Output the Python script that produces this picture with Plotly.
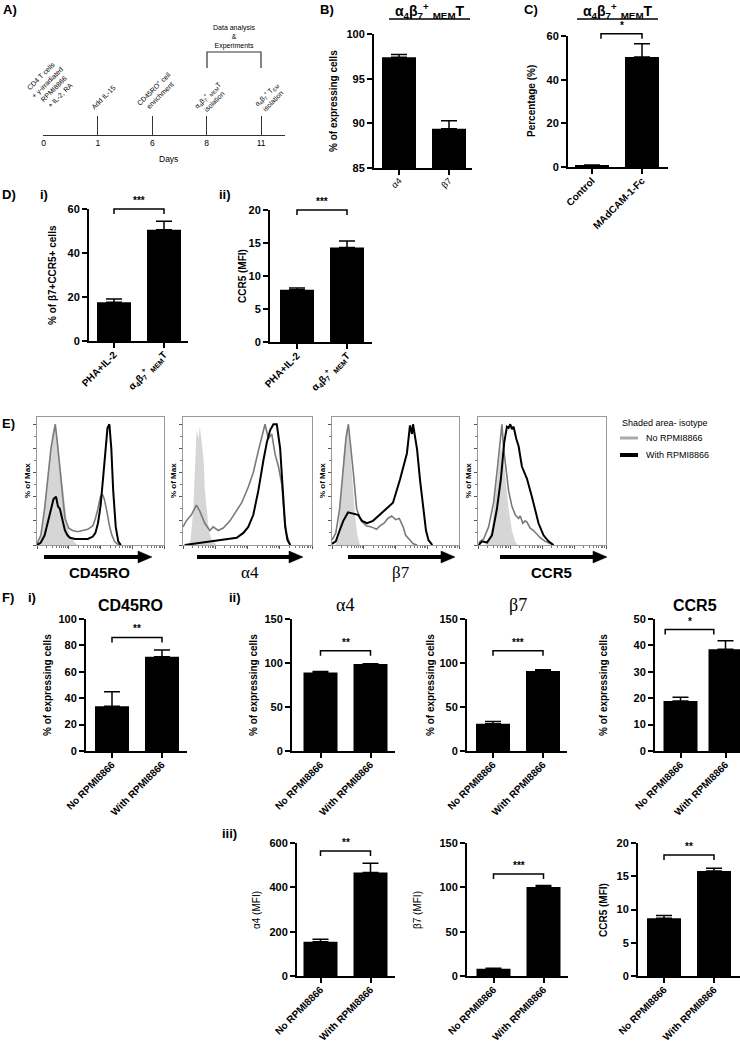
import math
import plotly.graph_objects as go

# ======================= DATA =======================
timeline_days = ["0", "1", "6", "8", "11"]
timeline_events = [
    "CD4 T cells<br>+ γ-irradiated<br>RPMI8866<br>+ IL-2, RA",
    "Add IL-15",
    "CD45RO<sup>+</sup> cell<br>enrichment",
    "α<sub>4</sub>β<sub>7</sub><sup>+</sup> <sub>MEM</sub>T<br>isolation",
    "α<sub>4</sub>β<sub>7</sub><sup>+</sup> T<sub>EM</sub><br>isolation",
]

B_categories = ["α4", "β7"]
B_values = [97.4, 89.4]
B_errors = [0.3, 0.9]

C_categories = ["Control", "MAdCAM-1-Fc"]
C_values = [0.8, 50.4]
C_errors = [0.1, 6.0]

D_categories = ["PHA+IL-2", "α<sub>4</sub>β<sub>7</sub><sup>+</sup> <sub>MEM</sub>T"]
Di_values = [17.6, 50.6]
Di_errors = [1.5, 3.8]
Dii_values = [7.9, 14.3]
Dii_errors = [0.3, 1.0]

F_groups = ["No RPMI8866", "With RPMI8866"]
F_CD45RO = [33.9, 71.4]
F_CD45RO_err = [10.9, 5.1]
F_a4 = [89.2, 98.8]
F_a4_err = [1.0, 0.3]
F_b7 = [31.1, 90.8]
F_b7_err = [2.3, 1.5]
F_CCR5 = [18.9, 38.5]
F_CCR5_err = [1.5, 3.3]
F_a4_MFI = [154, 467]
F_a4_MFI_err = [12, 42]
F_b7_MFI = [8.3, 100.3]
F_b7_MFI_err = [0.3, 1.8]
F_CCR5_MFI = [8.7, 15.8]
F_CCR5_MFI_err = [0.4, 0.4]

# Flow histograms (x: relative channel position 0-100, y: % of Max)
CD45RO_iso_x = [0, 2, 4, 6, 8, 10, 12, 13, 14.4, 16, 18, 20, 22, 24, 26, 29, 32]
CD45RO_iso_y = [0, 3, 15, 35, 55, 75, 92, 97, 98, 88, 70, 48, 30, 16, 8, 3, 0]
CD45RO_no_x = [0, 3, 6, 9, 11, 13, 14.4, 16, 18, 20, 22, 25, 28, 32, 36, 40, 44, 46, 48, 50, 51.5, 53, 55, 57, 59, 61, 63, 66]
CD45RO_no_y = [1, 8, 30, 60, 80, 92, 100, 85, 62, 40, 22, 14, 12, 11, 12, 13, 16, 22, 30, 40, 42, 38, 28, 16, 8, 3, 1, 0]
CD45RO_with_x = [0, 3, 6, 9, 11, 13, 15, 16.5, 18, 20, 22, 24, 26, 30, 35, 40, 44, 46, 48, 50, 52, 54, 55.5, 57, 58.5, 60, 62, 64, 66]
CD45RO_with_y = [0, 2, 8, 20, 30, 38, 40, 32, 30, 20, 12, 8, 6, 5, 5, 5, 7, 10, 18, 32, 55, 80, 97, 100, 80, 45, 15, 3, 0]

a4_iso_x = [4, 6, 8, 9.5, 10.5, 12, 13, 14.5, 16, 17, 18.5, 20, 22, 24, 26]
a4_iso_y = [0, 5, 30, 75, 95, 88, 98, 85, 70, 45, 25, 12, 5, 2, 0]
a4_no_x = [0, 2.6, 6.5, 10.4, 13, 16.9, 20.8, 23.4, 27.3, 31.2, 36.4, 41.6, 45.5, 50.6, 54.5, 58.4, 61, 63.6, 66.2, 68.8, 71.4, 74, 76.6, 78.4, 80.5, 83.1]
a4_no_y = [15, 20, 25, 33, 28, 18, 12, 15, 12, 14, 20, 28, 35, 48, 60, 78, 90, 100, 88, 92, 75, 65, 50, 25, 8, 0]
a4_with_x = [1.3, 7.8, 13, 23.4, 33.8, 41.6, 46.8, 50.6, 54.5, 58.4, 62.3, 65, 67.5, 70.1, 72.7, 75.3, 77.4, 79.2, 81, 83.1]
a4_with_y = [0, 1, 2, 3, 5, 6, 10, 15, 25, 45, 70, 85, 95, 100, 100, 80, 45, 15, 4, 0]

b7_iso_x = [3, 5, 7, 9, 11, 12.6, 14, 16, 18, 20, 22]
b7_iso_y = [0, 10, 40, 75, 95, 98, 85, 55, 25, 8, 0]
b7_no_x = [0, 3, 6, 9, 11, 12.9, 14.5, 16.8, 19.4, 23, 27, 31, 35, 38, 41, 44, 47, 50, 53, 56, 58, 61, 64, 67]
b7_no_y = [4, 10, 30, 65, 88, 100, 85, 60, 30, 20, 16, 15, 13, 16, 18, 22, 24, 21, 22, 15, 8, 4, 1, 0]
b7_with_x = [0, 3, 6, 8.9, 12.6, 16.5, 20.5, 23.6, 27.6, 32.3, 37.8, 43, 48, 53.5, 59, 61.4, 63, 63.8, 67, 69.3, 71.7, 74, 76, 79]
b7_with_y = [1, 3, 12, 20, 27, 26, 25, 20, 18, 20, 25, 30, 35, 54, 76, 99, 92, 100, 79, 54, 30, 12, 4, 0]

CCR5_iso_x = [6, 8, 10.9, 13.5, 16.1, 17.9, 19.5, 21.3, 23.9, 26.5, 29.1, 31]
CCR5_iso_y = [0, 3, 15, 40, 70, 82, 75, 55, 30, 12, 3, 0]
CCR5_no_x = [0.5, 4.4, 8.3, 12.2, 15.3, 17.4, 18.7, 20, 22, 23.9, 26.5, 29.1, 31.7, 33, 35, 36.9, 38.2, 40.8, 43.4, 46, 48.6, 52.5, 56.4, 59]
CCR5_no_y = [2, 5, 15, 35, 65, 85, 100, 80, 60, 45, 32, 25, 22, 24, 18, 20, 19, 14, 12, 9, 6, 3, 1, 0]
CCR5_with_x = [0.5, 3.1, 7, 10.9, 14.8, 17.9, 20.5, 22.6, 23.9, 25.2, 26.5, 27.8, 29.9, 31.7, 34.3, 38.2, 42.1, 44.7, 47.3, 51.2, 55.1, 59]
CCR5_with_y = [0, 3, 2, 8, 30, 55, 85, 98, 97, 100, 96, 98, 88, 82, 65, 55, 40, 28, 18, 8, 3, 0]

# ======================= HELPERS =======================
W, H = 740, 1044
SANS = "Liberation Sans, Arial, sans-serif"
SERIF = "Liberation Serif, Times New Roman, serif"
BAR_PX = 34.0  # bar width in pixels


def fx(p):
    return p / W


def fy(p):
    return 1 - p / H


fig = go.Figure()
layout = dict(width=W, height=H, margin=dict(l=0, r=0, t=0, b=0), template="none",
              paper_bgcolor="white", plot_bgcolor="white", showlegend=False,
              font=dict(family=SANS, color="black"))
annotations = []
shapes = []
axcount = [0]


def new_axes(xpx, ypx, xopts, yopts):
    axcount[0] += 1
    i = axcount[0]
    s = "" if i == 1 else str(i)
    xo = dict(domain=[fx(xpx[0]), fx(xpx[1])], anchor="y" + s, automargin=False,
              showgrid=False, zeroline=False, fixedrange=True)
    yo = dict(domain=[fy(ypx[1]), fy(ypx[0])], anchor="x" + s, automargin=False,
              showgrid=False, zeroline=False, fixedrange=True)
    xo.update(xopts)
    yo.update(yopts)
    layout["xaxis" + s] = xo
    layout["yaxis" + s] = yo
    return "x" + s, "y" + s


def txt(x, y, text, size, bold=False, family=SANS, angle=0, xanchor="center",
        yanchor="middle", color="black"):
    annotations.append(dict(x=fx(x), y=fy(y), xref="paper", yref="paper", text=text,
                            showarrow=False, textangle=angle, xanchor=xanchor,
                            yanchor=yanchor,
                            font=dict(family=family, size=size, color=color,
                                      weight="bold" if bold else "normal")))


def line_px(x0, y0, x1, y1, width=1, color="black"):
    shapes.append(dict(type="line", xref="paper", yref="paper", x0=fx(x0), y0=fy(y0),
                       x1=fx(x1), y1=fy(y1), line=dict(color=color, width=width)))


def path_px(pts, width=1, color="black", fill=None, close=False):
    d = "M " + " L ".join(f"{fx(a):.5f},{fy(b):.5f}" for a, b in pts)
    if close:
        d += " Z"
    shp = dict(type="path", xref="paper", yref="paper", path=d,
               line=dict(color=color, width=width))
    if fill:
        shp["fillcolor"] = fill
    shapes.append(shp)


# ======================= PANEL A: timeline =======================
xa, ya = new_axes((43, 285), (60, 135),
                  dict(range=[-0.01, (285 - 43) / 54.5], tickvals=list(range(5)),
                       ticktext=timeline_days, showline=True, linecolor="#333",
                       linewidth=1.2, ticks="inside", ticklen=19, tickwidth=1.2,
                       tickcolor="#333", tickfont=dict(size=8.5, family=SANS, color="black")),
                  dict(range=[0, 1], visible=False))
fig.add_trace(go.Scatter(x=[0, 4], y=[0, 0], mode="markers", marker=dict(opacity=0),
                         xaxis=xa, yaxis=ya, hoverinfo="skip"))
event_centres = [(50, 86), (103, 97), (157, 92), (211, 97), (269, 97)]
for (cx, cy), ev in zip(event_centres, timeline_events):
    txt(cx, cy, ev, 7, angle=-45)
txt(168, 159, "Days", 8.5)
txt(234, 37, "Data analysis<br>&<br>Experiments", 7)
path_px([(207, 68), (207, 52), (261, 52), (261, 68)], width=1.2, color="#333")
txt(1, 10, "A)", 13, bold=True, xanchor="left")

# ======================= BAR PANELS =======================
BOLD_TICK = dict(family=SANS, size=11, weight="bold", color="black")


def bar_panel(cats, vals, errs, x0, x1, c0, ytop, ybot, yr, dtick, xfont, brackets=(), sp=50.0):
    xr = [(x0 - c0) / sp, (x1 - c0) / sp]
    xr_, yr_ = new_axes((x0, x1), (ytop, ybot),
                        dict(type="category", range=xr, showline=True, linewidth=2,
                             linecolor="black", ticks="outside", ticklen=5, tickwidth=2,
                             tickcolor="black", tickangle=-45, tickfont=xfont,
                             ticklabelstandoff=-3),
                        dict(range=yr, dtick=dtick, tick0=0, showline=True, linewidth=2,
                             linecolor="black", ticks="outside", ticklen=5, tickwidth=2,
                             tickcolor="black", tickfont=BOLD_TICK))
    fig.add_trace(go.Bar(x=cats, y=vals, width=BAR_PX / sp, xaxis=xr_, yaxis=yr_,
                         marker=dict(color="black", line=dict(width=0)),
                         error_y=dict(type="data", symmetric=False, array=errs,
                                      arrayminus=[0] * len(errs), color="black",
                                      thickness=1.5, width=8)))

    def px_x(c):
        return c0 + c * sp

    def px_y(v):
        return ybot - (v - yr[0]) / (yr[1] - yr[0]) * (ybot - ytop)

    for (b0, b1, bv, stars) in brackets:
        yb = px_y(bv)
        path_px([(px_x(b0), yb + 5), (px_x(b0), yb), (px_x(b1), yb), (px_x(b1), yb + 5)],
                width=1.5)
        txt((px_x(b0) + px_x(b1)) / 2, yb - 1, stars, 10, bold=True, yanchor="bottom")


XB = dict(family=SANS, size=10, weight="bold", color="black")
XN = dict(family=SANS, size=9, color="black")

# B
bar_panel(B_categories, B_values, B_errors, 374, 472, 399, 34, 168, [85, 100], 5, XN)
txt(318, 10, "B)", 13, bold=True, xanchor="left")
txt(430, 11, "α<sub>4</sub>β<sub>7</sub><sup>+</sup> <sub>MEM</sub>T", 14, bold=True)
line_px(389, 19, 470, 19, width=1.5)
txt(333, 101, "% of expressing cells", 10, bold=True, angle=-90)

# C
bar_panel(C_categories, C_values, C_errors, 568, 668, 592, 36, 167, [0, 60], 20, XB,
          brackets=[(0.18, 1.0, 61, "*")])
txt(522, 10, "C)", 13, bold=True, xanchor="left")
txt(618, 11, "α<sub>4</sub>β<sub>7</sub><sup>+</sup> <sub>MEM</sub>T", 14, bold=True)
line_px(577, 19, 658, 19, width=1.5)
txt(531, 101, "Percentage (%)", 10, bold=True, angle=-90)

# D i / ii
bar_panel(D_categories, Di_values, Di_errors, 89, 188, 114, 209, 341, [0, 60], 20, XB,
          brackets=[(0, 1, 60, "***")])
bar_panel(D_categories, Dii_values, Dii_errors, 270, 372, 297, 210, 342, [0, 20], 5, XB,
          brackets=[(0, 1, 20, "***")])
txt(0, 194, "D)", 13, bold=True, xanchor="left")
txt(38, 194, "i)", 13, bold=True, xanchor="left")
txt(217, 194, "ii)", 13, bold=True, xanchor="left")
txt(52, 275, "% of β7+CCR5+ cells", 10, bold=True, angle=-90)
txt(242, 276, "CCR5 (MFI)", 10, bold=True, angle=-90)

# F row ii (percent)
bar_panel(F_groups, F_CD45RO, F_CD45RO_err, 86, 187, 112, 619, 751, [0, 100], 20, XB,
          brackets=[(0, 1, 86, "**")])
bar_panel(F_groups, F_a4, F_a4_err, 292, 395, 320.5, 619, 751, [0, 150], 50, XB,
          brackets=[(0, 1, 114, "**")])
bar_panel(F_groups, F_b7, F_b7_err, 467, 567, 493, 619, 751, [0, 150], 50, XB,
          brackets=[(0, 1, 114, "***")])
bar_panel(F_groups, F_CCR5, F_CCR5_err, 655, 740, 680.5, 619, 751, [0, 50], 10, XB,
          brackets=[(-0.34, 0.74, 46, "*")], sp=45.0)
txt(0, 597, "F)", 13, bold=True, xanchor="left")
txt(26, 597, "i)", 13, bold=True, xanchor="left")
txt(227, 597, "ii)", 13, bold=True, xanchor="left")
txt(130, 605, "CD45RO", 16, bold=True)
txt(345, 605, "α4", 18, family=SERIF)
txt(518, 605, "β7", 18, family=SERIF)
txt(695, 605, "CCR5", 16, bold=True)
for xx in (47, 253, 430, 603):
    txt(xx, 685, "% of expressing cells", 10, bold=True, angle=-90)

# F row iii (MFI)
bar_panel(F_groups, F_a4_MFI, F_a4_MFI_err, 297, 395, 320.5, 843, 976, [0, 600], 200, XB,
          brackets=[(0, 1, 564, "**")])
bar_panel(F_groups, F_b7_MFI, F_b7_MFI_err, 467, 568, 493.5, 843, 976, [0, 150], 50, XB,
          brackets=[(0, 1, 115, "***")])
bar_panel(F_groups, F_CCR5_MFI, F_CCR5_MFI_err, 638, 740, 664, 843, 976, [0, 20], 5, XB,
          brackets=[(0, 1, 18.2, "**")])
txt(220, 833, "iii)", 13, bold=True, xanchor="left")
txt(256, 910, "α4 (MFI)", 10, angle=-90)
txt(417, 910, "β7 (MFI)", 10, angle=-90)
txt(603, 910, "CCR5 (MFI)", 10, bold=True, angle=-90)

# ======================= PANEL E: histograms =======================
minor_x = [(d + math.log10(m)) * 25 for d in range(4) for m in range(2, 10)]
hists = [
    ((37, 164), CD45RO_iso_x, CD45RO_iso_y, CD45RO_no_x, CD45RO_no_y, CD45RO_with_x, CD45RO_with_y),
    ((183, 312), a4_iso_x, a4_iso_y, a4_no_x, a4_no_y, a4_with_x, a4_with_y),
    ((332, 459), b7_iso_x, b7_iso_y, b7_no_x, b7_no_y, b7_with_x, b7_with_y),
    ((478, 606), CCR5_iso_x, CCR5_iso_y, CCR5_no_x, CCR5_no_y, CCR5_with_x, CCR5_with_y),
]
for (box, ix, iy, nx, ny, wx, wy) in hists:
    hx, hy = new_axes(box, (417, 545),
                      dict(range=[0, 100], showline=True, mirror=True, linecolor="#999",
                           linewidth=1, ticks="outside", tickvals=[0, 25, 50, 75, 100],
                           ticklen=3, tickcolor="#555", tickwidth=1, showticklabels=False,
                           minor=dict(tickvals=minor_x, ticks="outside", ticklen=2,
                                      tickcolor="#777", tickwidth=1)),
                      dict(range=[0, 106], showline=True, mirror=True, linecolor="#999",
                           linewidth=1, ticks="outside", tickvals=[0, 20, 40, 60, 80, 100],
                           ticklen=3, tickcolor="#555", tickwidth=1, showticklabels=False,
                           minor=dict(dtick=10, ticks="outside", ticklen=2,
                                      tickcolor="#777", tickwidth=1)))
    fig.add_trace(go.Scatter(x=ix, y=iy, mode="lines", fill="tozeroy", fillcolor="#d6d6d6",
                             line=dict(color="rgba(0,0,0,0)", width=0), xaxis=hx, yaxis=hy))
    fig.add_trace(go.Scatter(x=nx, y=ny, mode="lines", line=dict(color="#7a7a7a", width=1.6),
                             xaxis=hx, yaxis=hy))
    fig.add_trace(go.Scatter(x=wx, y=wy, mode="lines", line=dict(color="black", width=2),
                             xaxis=hx, yaxis=hy))
    txt(box[0] - 10, 481, "% of Max", 8, bold=True, angle=-90)

txt(0, 423, "E)", 13, bold=True, xanchor="left")
arrows = [(44, 152, 99, "CD45RO", True, SANS, 15),
          (197, 303, 250, "α4", False, SERIF, 17),
          (348, 455, 401, "β7", False, SERIF, 17),
          (500, 607, 551, "CCR5", True, SANS, 15)]
for (a0, a1, lc, lab, bd, fam, sz) in arrows:
    line_px(a0, 557, a1 - 12, 557, width=4)
    path_px([(a1 - 14, 551), (a1, 557), (a1 - 14, 563)], width=0.5, fill="black", close=True)
    txt(lc, 572, lab, sz, bold=bd, family=fam)

# legend
txt(620, 423, "Shaded area- isotype", 9, xanchor="left")
line_px(620, 438, 638, 438, width=3, color="#aaaaaa")
txt(644, 438, "No RPMI8866", 9, xanchor="left")
line_px(620, 455, 638, 455, width=4, color="black")
txt(644, 455, "With RPMI8866", 9, xanchor="left")

layout["annotations"] = annotations
layout["shapes"] = shapes
fig.update_layout(**layout)
fig.write_html("out.html", config={"displayModeBar": False},
               post_script="document.body.style.margin='0px';")
